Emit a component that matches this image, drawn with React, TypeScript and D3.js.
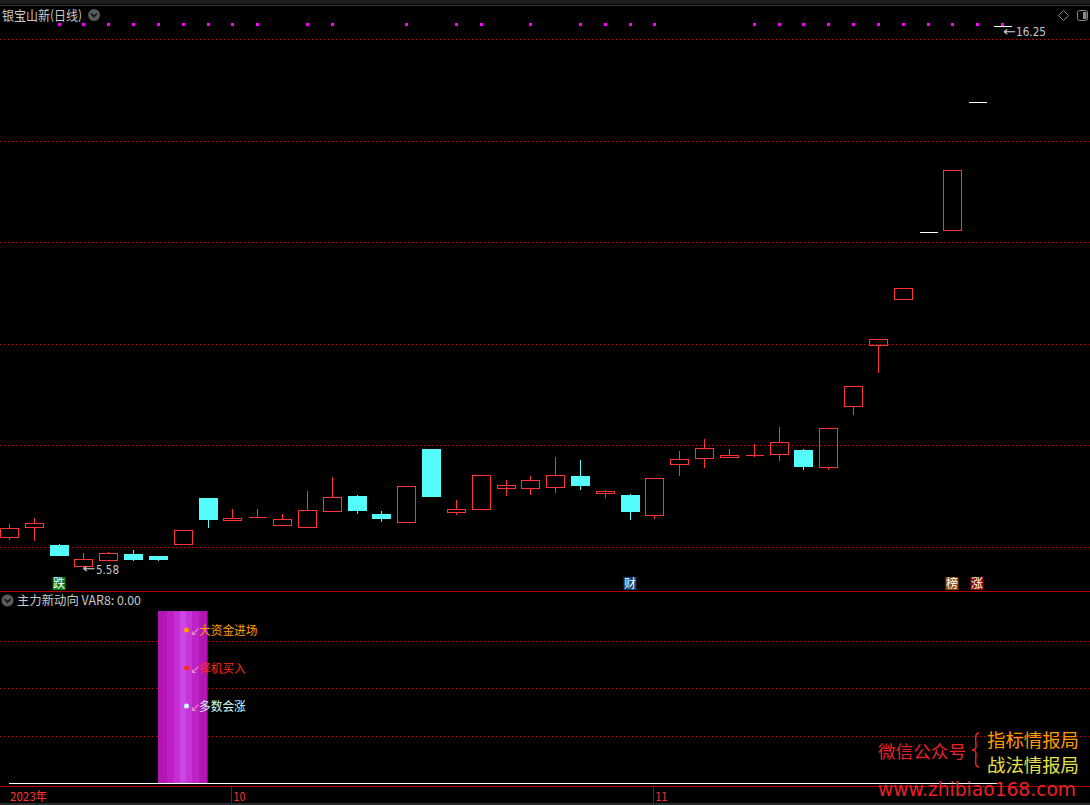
import React from "react";
import * as d3 from "d3";

// ---------- data ----------
const dates = [
  "2023-09-18", "2023-09-19", "2023-09-20", "2023-09-21", "2023-09-22", "2023-09-25", "2023-09-26", "2023-09-27", "2023-09-28",
  "2023-10-09", "2023-10-10", "2023-10-11", "2023-10-12", "2023-10-13", "2023-10-16", "2023-10-17", "2023-10-18", "2023-10-19",
  "2023-10-20", "2023-10-23", "2023-10-24", "2023-10-25", "2023-10-26", "2023-10-27", "2023-10-30", "2023-10-31",
  "2023-11-01", "2023-11-02", "2023-11-03", "2023-11-06", "2023-11-07", "2023-11-08", "2023-11-09", "2023-11-10",
  "2023-11-13", "2023-11-14", "2023-11-15", "2023-11-16", "2023-11-17", "2023-11-20", "2023-11-21",
];
const opens = [6.20, 6.39, 6.04, 5.63, 5.74, 5.86, 5.82, 6.05, 6.96, 6.54, 6.58, 6.44, 6.40, 6.71, 7.00, 6.65, 6.50, 7.93, 6.68, 6.75, 7.18, 7.15, 7.17, 7.40, 7.06, 7.02, 6.62, 7.64, 7.74, 7.77, 7.81, 7.82, 7.91, 7.57, 8.77, 9.97, 10.88, 12.20, 12.25, 14.76, 16.25];
const highs = [6.45, 6.57, 6.06, 5.88, 5.90, 5.95, 5.82, 6.33, 6.96, 6.75, 6.75, 6.65, 7.10, 7.38, 7.02, 6.71, 7.21, 7.93, 6.93, 7.41, 7.32, 7.40, 7.77, 7.71, 7.12, 7.04, 7.35, 7.89, 8.13, 7.93, 8.03, 8.36, 7.93, 8.34, 9.16, 10.09, 11.09, 12.20, 13.43, 14.76, 16.25];
const lows = [6.14, 6.12, 5.83, 5.58, 5.74, 5.73, 5.73, 6.05, 6.38, 6.54, 6.58, 6.44, 6.40, 6.71, 6.64, 6.50, 6.50, 6.99, 6.63, 6.75, 7.00, 7.02, 7.07, 7.12, 6.96, 6.53, 6.55, 7.40, 7.56, 7.77, 7.77, 7.70, 7.52, 7.52, 8.60, 9.43, 10.88, 12.20, 12.25, 14.76, 16.25];
const closes = [6.37, 6.47, 5.83, 5.76, 5.88, 5.75, 5.75, 6.33, 6.54, 6.58, 6.60, 6.55, 6.73, 6.98, 6.71, 6.56, 7.21, 6.99, 6.74, 7.41, 7.23, 7.31, 7.41, 7.21, 7.10, 6.69, 7.35, 7.73, 7.94, 7.81, 7.81, 8.06, 7.58, 8.34, 9.16, 10.09, 11.09, 12.20, 13.43, 14.76, 16.25];

// magenta flag dots along the top of the price panel (candle indices)
const flagIdx = [2, 3, 4, 5, 6, 7, 8, 9, 10, 12, 13, 16, 18, 19, 21, 23, 24, 25, 26, 30, 31, 32, 33, 34, 35, 36, 37, 38, 39, 40];

// event markers below candles
const markerIdx = [2, 25, 38, 39];
const markerText = ["跌", "财", "榜", "涨"];
const markerBg = ["#0b7a18", "#0a3f7a", "#8a4a10", "#8a0a0a"];

// price grid (dotted)
const priceGrid = [6, 8, 10, 12, 14, 16];

// sub indicator (主力新动向)
const subGrid = [1, 2, 3];
const var8 = dates.map(() => 0);
const signalIdx = 7;
const signalValue = 3.62;
const signalLabels = ["大资金进场", "择机买入", "多数会涨"];
const signalLevels = [3.22, 2.42, 1.62];
const signalColors = ["#ff9c00", "#ff2a1a", "#c8ffff"];

// ---------- layout ----------
const W = 1090;
const H = 805;
const UP = "#ff3434";
const DOWN = "#54fcfc";
const GRID = "#d80000";
const CJK = "'Noto Sans CJK SC', 'Noto Sans', sans-serif";
const NUM = "'DejaVu Sans', 'Noto Sans', sans-serif";

export default function App() {
  const x = d3.scalePoint<string>().domain(dates).range([9, 1002]);
  const y = d3.scaleLinear().domain([6, 16]).range([547, 39]);
  const ys = d3.scaleLinear().domain([0, 4]).range([783, 593]);
  const step = x.step();
  const bw = 18;

  const candles = dates.map((d, i) => {
    const o = opens[i], c = closes[i], h = highs[i], l = lows[i];
    const cx = Math.round(x(d)!) + 0.5;
    const top = y(Math.max(o, c));
    const bot = y(Math.min(o, c));
    const oneLine = h === l;
    const up = c >= o;
    const color = oneLine ? "#ffffff" : up ? UP : DOWN;
    const left = cx - bw / 2;
    const els: React.ReactNode[] = [];
    if (oneLine) {
      els.push(<line key="b" x1={left} x2={left + bw} y1={Math.round(top) + 0.5} y2={Math.round(top) + 0.5} stroke={color} strokeWidth={1.5} />);
    } else if (up) {
      els.push(<line key="wh" x1={cx} x2={cx} y1={y(h)} y2={top} stroke={color} />);
      els.push(<line key="wl" x1={cx} x2={cx} y1={bot} y2={y(l)} stroke={color} />);
      if (bot - top < 1.5) {
        els.push(<line key="b" x1={left} x2={left + bw} y1={Math.round(top) + 0.5} y2={Math.round(top) + 0.5} stroke={color} strokeWidth={1.5} />);
      } else {
        els.push(<rect key="b" x={left} y={Math.round(top) + 0.5} width={bw} height={Math.round(bot - top)} fill="none" stroke={color} strokeWidth={1.3} />);
      }
    } else {
      els.push(<line key="w" x1={cx} x2={cx} y1={y(h)} y2={y(l)} stroke={color} />);
      els.push(<rect key="b" x={left - 0.5} y={top} width={bw + 1} height={Math.max(bot - top, 1.5)} fill={color} />);
    }
    return <g key={d}>{els}</g>;
  });

  // month boundaries for axis
  const monthStarts: { i: number; label: string }[] = [];
  dates.forEach((d, i) => {
    if (i === 0) return;
    if (d.slice(5, 7) !== dates[i - 1].slice(5, 7)) monthStarts.push({ i, label: String(+d.slice(5, 7)) });
  });
  const yearLabel = dates[0].slice(0, 4) + "年";

  const maxI = d3.maxIndex(highs);
  const minI = d3.minIndex(lows);

  const sigX = x(dates[signalIdx])!;

  return (
    <svg width={W} height={H} style={{ position: "absolute", left: 0, top: 0, background: "#000" }}>
      <defs>
        <linearGradient id="barGrad" x1="0" x2="1" y1="0" y2="0">
          <stop offset="0" stopColor="#b416b4" />
          <stop offset="0.18" stopColor="#b416b4" />
          <stop offset="0.18" stopColor="#bd1fc4" />
          <stop offset="0.32" stopColor="#bd1fc4" />
          <stop offset="0.32" stopColor="#c42ed4" />
          <stop offset="0.44" stopColor="#c42ed4" />
          <stop offset="0.44" stopColor="#cc46e6" />
          <stop offset="0.57" stopColor="#cc46e6" />
          <stop offset="0.57" stopColor="#c436d8" />
          <stop offset="0.69" stopColor="#c436d8" />
          <stop offset="0.69" stopColor="#bd22c6" />
          <stop offset="0.82" stopColor="#bd22c6" />
          <stop offset="0.82" stopColor="#b416b4" />
          <stop offset="1" stopColor="#b416b4" />
        </linearGradient>
      </defs>
      <rect x={0} y={0} width={W} height={H} fill="#000" />

      {/* header strip */}
      <rect x={0} y={0} width={W} height={4} fill="#1c1c1c" />
      <line x1={0} x2={W} y1={5.5} y2={5.5} stroke="#3a3a3a" />

      {/* price grid */}
      <g shapeRendering="crispEdges">
        {priceGrid.map((p) => (
          <line key={p} x1={0} x2={W} y1={Math.round(y(p)) + 0.5} y2={Math.round(y(p)) + 0.5} stroke={GRID} strokeDasharray="1,3" />
        ))}
      </g>

      {/* title */}
      <text x={2} y={20} fill="#c8c8c8" fontSize={13} fontFamily={CJK} textLength={80} lengthAdjust="spacingAndGlyphs">银宝山新(日线)</text>
      <circle cx={94} cy={15} r={6} fill="#5a5a5a" />
      <path d="M91,13.5 L94,16.5 L97,13.5" fill="none" stroke="#111" strokeWidth={1.6} />

      {/* top-right icons */}
      <path d="M1063.5,10.5 L1068.5,15.5 L1063.5,20.5 L1058.5,15.5 Z" fill="none" stroke="#8a8a8a" />
      <rect x={1077.5} y={10.5} width={10} height={10} rx={2} fill="none" stroke="#8a8a8a" />
      <rect x={1083} y={12} width={3.5} height={7} fill="#8a8a8a" />

      {/* flag dots */}
      {flagIdx.map((i) => (
        <rect key={i} x={Math.round(x(dates[i])!) - 1} y={23} width={3} height={3} fill="#ff00ff" />
      ))}

      {/* candles */}
      <g shapeRendering="crispEdges">{candles}</g>

      {/* max / min annotations */}
      <text x={x(dates[maxI])! + 1} y={36} fill="#c8c8c8" fontSize={13} fontFamily={NUM} textLength={13} lengthAdjust="spacingAndGlyphs">←</text>
      <text x={1016} y={36} fill="#c8c8c8" fontSize={12} fontFamily={NUM} textLength={30} lengthAdjust="spacingAndGlyphs">{highs[maxI].toFixed(2)}</text>
      <text x={x(dates[minI])! - 1} y={573} fill="#c8c8c8" fontSize={13} fontFamily={NUM} textLength={13} lengthAdjust="spacingAndGlyphs">←</text>
      <text x={96} y={574} fill="#c8c8c8" fontSize={12} fontFamily={NUM} textLength={23} lengthAdjust="spacingAndGlyphs">{lows[minI].toFixed(2)}</text>

      {/* event markers */}
      {markerIdx.map((i, k) => {
        const mx = Math.round(x(dates[i])!);
        return (
          <g key={i}>
            <rect x={mx - 6.5} y={577} width={13} height={13} fill={markerBg[k]} />
            <text x={mx} y={588} fill="#ffffff" fontSize={12} fontFamily={CJK} textAnchor="middle">{markerText[k]}</text>
          </g>
        );
      })}

      {/* panel separator */}
      <line x1={0} x2={W} y1={591.5} y2={591.5} stroke="#b40000" />

      {/* sub panel */}
      <circle cx={7.5} cy={600.5} r={6} fill="#5a5a5a" />
      <path d="M4.5,599 L7.5,602 L10.5,599" fill="none" stroke="#111" strokeWidth={1.6} />
      <text x={17} y={605} fill="#c8c8c8" fontSize={12.5} fontFamily={CJK} textLength={124} lengthAdjust="spacingAndGlyphs">主力新动向 VAR8: {var8[var8.length - 1].toFixed(2)}</text>
      <g shapeRendering="crispEdges">
        {subGrid.map((v) => (
          <line key={v} x1={0} x2={W} y1={Math.round(ys(v)) + 0.5} y2={Math.round(ys(v)) + 0.5} stroke={GRID} strokeDasharray="1,3" />
        ))}
      </g>
      <rect x={sigX - step} y={ys(signalValue)} width={step * 2} height={ys(0) - ys(signalValue)} fill="url(#barGrad)" />
      {signalLabels.map((s, k) => {
        const yy = ys(signalLevels[k]);
        return (
          <g key={s}>
            <circle cx={186.5} cy={yy} r={2.5} fill={signalColors[k]} />
            <text x={190} y={yy + 5} fill="#f08cc8" fontSize={12} fontFamily={NUM}>↙</text>
            <text x={199} y={yy + 5} fill={signalColors[k]} fontSize={12} fontFamily={CJK} textLength={s.length * 11.7} lengthAdjust="spacingAndGlyphs">{s}</text>
          </g>
        );
      })}
      <line x1={x(dates[0])} x2={x(dates[dates.length - 1])} y1={Math.round(ys(var8[0])) + 0.5} y2={Math.round(ys(var8[0])) + 0.5} stroke="#ffffff" strokeWidth={1.2} />

      {/* x axis */}
      <line x1={0} x2={W} y1={786.5} y2={786.5} stroke="#b40000" />
      <text x={10} y={801} fill="#ff3434" fontSize={12} fontFamily={CJK} textLength={37} lengthAdjust="spacingAndGlyphs">{yearLabel}</text>
      {monthStarts.map((m) => {
        const mx = Math.round(x(dates[m.i])!) - 0.5;
        return (
          <g key={m.label}>
            <line x1={mx} x2={mx} y1={787} y2={803} stroke="#b40000" />
            <text x={mx + 2} y={801} fill="#ff3434" fontSize={12} fontFamily={NUM} textLength={12} lengthAdjust="spacingAndGlyphs">{m.label}</text>
          </g>
        );
      })}
      <rect x={0} y={803} width={W} height={2} fill="#2a2a2a" />

      {/* watermark */}
      <text x={878} y={758} fill="#e8202a" fontSize={17.5} fontFamily={CJK} textLength={88} lengthAdjust="spacingAndGlyphs">微信公众号</text>
      <path d="M979,733 C974,733 976,740 976,746 C976,749 975,750 972,750 C975,750 976,751 976,754 C976,760 974,767 979,767" fill="none" stroke="#e8202a" strokeWidth={1.5} />
      <text x={987} y={747} fill="#ff9a00" fontSize={18} fontFamily={CJK} textLength={92} lengthAdjust="spacingAndGlyphs">指标情报局</text>
      <text x={987} y={772} fill="#e6e04a" fontSize={18} fontFamily={CJK} textLength={92} lengthAdjust="spacingAndGlyphs">战法情报局</text>
      <text x={878} y={796} fill="#e8202a" fontSize={20} fontFamily={NUM} textLength={198} lengthAdjust="spacingAndGlyphs">www.zhibiao168.com</text>
    </svg>
  );
}
